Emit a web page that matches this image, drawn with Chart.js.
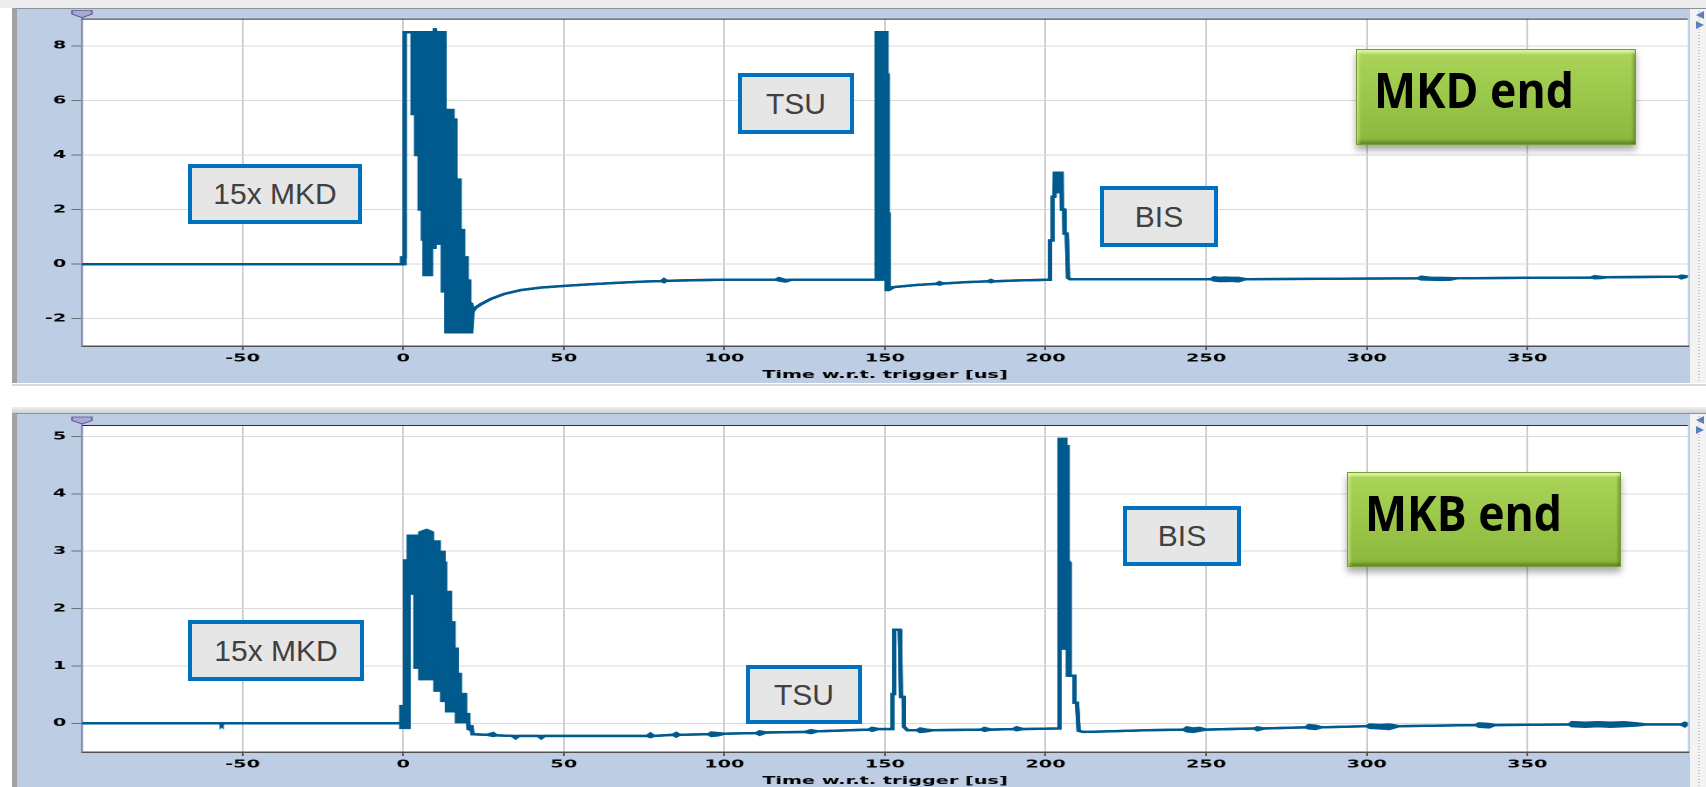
<!DOCTYPE html>
<html>
<head>
<meta charset="utf-8">
<script src="https://cdn.jsdelivr.net/npm/chart.js@4.4.1/dist/chart.umd.min.js"></script>
<style>
  html, body { margin: 0; padding: 0; }
  body { width: 1706px; height: 787px; overflow: hidden; position: relative; background: #ffffff; }
  .strip { position: absolute; left: 0; top: 0; width: 1706px; height: 8px; background: #ececec; }
  .gap1 { position: absolute; left: 12px; top: 384px; width: 1694px; height: 2px; background: #d9d9d9; }
  .gap2 { position: absolute; left: 12px; top: 407px; width: 1694px; height: 6px; background: linear-gradient(#f0f0f0, #d0d0d0); }
  .panel { position: absolute; left: 12px; width: 1678px; box-sizing: border-box;
           background: #bccde4; border-top: 1px solid #8c929a; border-left: 5px solid #a2a2a2;
           box-shadow: inset 1px 0 0 #c8c8c8; }
  .scroll { position: absolute; left: 1690px; width: 16px; box-sizing: border-box; background: #f3f3f3;
            border-top: 1px solid #8c929a;
            background-image: repeating-linear-gradient(#f3f3f3 0 2px, #c9c9c9 2px 3px);
            background-size: 2px 100%; background-repeat: repeat-y; background-position: 8px 0; }
  .tri { position: absolute; width: 0; height: 0; border-top: 4px solid transparent; border-bottom: 4px solid transparent; }
  .tri.l { border-right: 8px solid #5b7fbf; }
  .tri.r { border-left: 8px solid #5b7fbf; }
  .plot { position: absolute; left: 17px; width: 956px; transform: scaleX(1.75); transform-origin: 0 0; }
  .note { position: absolute; box-sizing: border-box; border: 4px solid #0070c0; background: #e7e6e6;
          color: #404040; font-family: "Liberation Sans", Arial, sans-serif; font-size: 30px;
          display: flex; align-items: center; justify-content: center; white-space: nowrap; }
  .tag { position: absolute; box-sizing: border-box; border: 1px solid #7a9c37;
         background: linear-gradient(#aad559 0%, #9cc84b 45%, #8cb73f 100%);
         box-shadow: inset 0 6px 3px -3px rgba(235,255,190,0.75), inset 6px 0 3px -4px rgba(225,250,170,0.55),
                     inset -6px 0 3px -4px rgba(70,100,20,0.45), inset 0 -6px 3px -3px rgba(70,100,20,0.55),
                     0 5px 7px rgba(0,0,0,0.35);
         display: flex; align-items: center; white-space: nowrap; }
  .tag span { display: inline-block; font-family: "Open Sans", "Lato", sans-serif; font-weight: 700;
              font-size: 48px; line-height: 1; color: #000; transform-origin: 0 50%; }
</style>
</head>
<body>
<div class="strip"></div>
<div class="panel" style="top:8px;height:375px"></div>
<div class="scroll" style="top:8px;height:375px"></div>
<div class="tri l" style="left:1696px;top:11px"></div>
<div class="tri r" style="left:1696px;top:21px"></div>
<div class="gap1"></div>
<div class="gap2"></div>
<div class="panel" style="top:413px;height:374px"></div>
<div class="scroll" style="top:413px;height:374px"></div>
<div class="tri l" style="left:1696px;top:416px"></div>
<div class="tri r" style="left:1696px;top:426px"></div>

<div class="plot" style="top:9px;height:374px"><canvas id="mkdEnd"></canvas></div>
<div class="plot" style="top:414px;height:375px"><canvas id="mkbEnd"></canvas></div>

<div class="note" style="left:188px;top:164px;width:174px;height:60px">15x MKD</div>
<div class="note" style="left:738px;top:73px;width:116px;height:61px">TSU</div>
<div class="note" style="left:1100px;top:186px;width:118px;height:61px">BIS</div>
<div class="tag" style="left:1356px;top:49px;width:280px;height:96px;padding-left:17px;padding-bottom:14px"><span data-w="200">MKD end</span></div>

<div class="note" style="left:188px;top:620px;width:176px;height:61px">15x MKD</div>
<div class="note" style="left:746px;top:665px;width:116px;height:59px">TSU</div>
<div class="note" style="left:1123px;top:506px;width:118px;height:60px">BIS</div>
<div class="tag" style="left:1347px;top:472px;width:274px;height:95px;padding-left:17px;padding-bottom:13px"><span data-w="197">MKB end</span></div>

<script>
// Time axis (us after trigger) and tick positions shared by both kicker-end pickups
const xTickValues = [-50, 0, 50, 100, 150, 200, 250, 300, 350];
const xAxisTitle = 'Time w.r.t. trigger [us]';

// MKD end pickup: per-sample envelope (max / min) of the recorded signal
const mkdEndTime = [
  -100, -0.4, -0.4, 0.2,
  0.2, 0.6, 0.6, 2.9,
  2.9, 4.0, 4.0, 5.1, 5.1, 6.1, 6.1, 6.6, 6.6, 8.7, 8.7, 9.7,
  9.7, 9.9, 10.1, 11.3, 11.3, 12.3, 12.3, 12.9, 12.9, 13.4, 13.4, 13.9,
  13.9, 15.4, 15.4, 16.3, 16.3, 17.6, 17.6, 18.7, 18.7, 19.8, 19.8, 20.6,
  20.6, 21.2, 21.6,
  22.5, 24.3, 27.4, 31.5, 36.7, 42.9, 50, 58, 66, 75, 80.5, 81.2, 82, 90, 100,
  116, 117, 119, 121, 147.4,
  147.4, 149.4, 149.4, 150.5, 150.5, 150.9, 150.9, 151.2, 151.2, 152.8,
  160, 166, 167, 168, 175, 182, 183, 184, 190, 201.4,
  201.4, 202.2, 202.2, 202.8, 202.9, 203.6, 203.8, 204.0, 205.0, 205.1, 205.8, 205.9, 206.6, 207.0, 207.6,
  230, 251.5, 252.5, 254, 256, 258, 260, 262, 263, 300,
  316, 317, 320, 323, 326, 328, 350, 370, 371, 373, 375, 397, 398, 400
];
const mkdEndMax = [
  0, 0, 0.25, 0.25,
  8.5, 8.5, 8.5, 8.5,
  8.5, 8.5, 8.5, 8.5, 8.5, 8.5, 8.5, 8.5, 8.5, 8.5, 8.5, 8.5,
  8.5, 8.65, 8.5, 8.5, 8.5, 8.5, 8.5, 8.5, 5.4, 5.4, 5.4, 5.4,
  5.65, 5.65, 5.3, 5.3, 3.1, 3.1, 1.25, 1.25, 0.25, 0.25, -0.6, -0.6,
  -1.4, -1.45, -1.7,
  -1.6, -1.46, -1.27, -1.09, -0.95, -0.86, -0.8, -0.74, -0.69, -0.64, -0.62, -0.55, -0.61, -0.59, -0.57,
  -0.57, -0.51, -0.58, -0.57, -0.57,
  8.5, 8.5, 8.5, 8.5, 6.95, 6.95, 1.85, 1.85, -0.85, -0.84,
  -0.76, -0.72, -0.66, -0.71, -0.66, -0.63, -0.58, -0.63, -0.6, -0.57,
  0.87, 0.87, 2.47, 2.47, 3.35, 3.35, 2.6, 3.35, 3.35, 2.0, 2.0, 1.12, 1.12, -0.5, -0.55,
  -0.55, -0.55, -0.48, -0.5, -0.49, -0.5, -0.5, -0.54, -0.55, -0.53,
  -0.52, -0.46, -0.5, -0.5, -0.51, -0.52, -0.5, -0.49, -0.44, -0.47, -0.48, -0.46, -0.42, -0.45
];
const mkdEndMin = [
  0, 0, 0, 0,
  0.25, 0.25, 8.5, 8.5,
  5.5, 5.5, 4.0, 4.0, 2.0, 2.0, 0.9, 0.9, -0.4, -0.4, 0.6, 0.6,
  0.75, 0.75, 0.75, 0.75, 1.5, 1.5, -1.0, -1.0, -1.0, -1.0, -2.5, -2.5,
  -2.5, -2.5, -2.5, -2.5, -2.5, -2.5, -2.5, -2.5, -2.5, -2.5, -2.5, -2.5,
  -2.5, -2.5, -1.75,
  -1.6, -1.46, -1.27, -1.09, -0.95, -0.86, -0.8, -0.74, -0.69, -0.64, -0.62, -0.66, -0.61, -0.59, -0.57,
  -0.57, -0.6, -0.64, -0.57, -0.57,
  -0.57, -0.57, 1.85, 1.85, -0.95, -0.95, -0.95, -0.95, -0.95, -0.84,
  -0.76, -0.72, -0.75, -0.71, -0.66, -0.63, -0.66, -0.63, -0.6, -0.57,
  0.87, 0.87, 2.47, 2.47, 3.35, 3.35, 2.6, 3.35, 3.35, 2.0, 2.0, 1.12, 1.12, -0.5, -0.55,
  -0.55, -0.55, -0.6, -0.62, -0.62, -0.61, -0.63, -0.56, -0.55, -0.53,
  -0.52, -0.56, -0.57, -0.58, -0.57, -0.52, -0.5, -0.49, -0.52, -0.51, -0.48, -0.46, -0.52, -0.45
];
const mkdEndYTicks = [-2, 0, 2, 4, 6, 8];

// MKB end pickup: per-sample envelope (max / min) of the recorded signal
const mkbEndTime = [
  -100, -57, -56.5, -56, -0.6,
  -0.6, 0.2, 0.2, 0.7, 0.7, 1.7,
  1.7, 3.8, 3.8, 4.3, 4.3, 5.3, 5.3, 7.3, 9.0,
  9.0, 10.0, 10.0, 11.1, 11.1, 12.1, 12.1, 12.6, 12.6, 13.1, 13.1, 13.6,
  13.6, 14.6, 14.6, 15.7, 15.7, 16.7, 16.7, 17.7, 17.7, 19.3, 19.3, 20.3,
  20.3, 21.3, 21.6,
  26, 28, 29, 34, 35, 36, 42, 43, 44, 70, 76, 77, 78, 84, 85, 86,
  95, 96, 98, 100, 110, 111, 113, 125, 127, 129, 145, 146, 148, 151.5,
  152.3, 152.3, 152.9, 152.9, 154.6, 154.6, 154.9, 155.0, 155.8, 155.9, 157,
  160, 161, 163, 165, 180, 181, 183, 190, 191, 193, 204,
  204, 204.5, 204.5, 206.2, 206.2, 206.9, 206.9, 207.3, 207.3, 207.7, 207.7, 209.0, 209.0, 209.8, 210.3, 211.8,
  220, 232, 243, 244, 246, 248, 250, 265, 266, 268, 281, 282, 284, 286,
  300, 301, 304, 307, 310, 334, 335, 338, 340,
  363, 364, 368, 372, 376, 380, 384, 387, 398, 399, 400
];
const mkbEndMax = [
  0, 0, 0, 0, 0,
  0.3, 0.3, 1.0, 1.0, 2.84, 2.84,
  3.27, 3.27, 3.27, 3.27, 3.0, 3.0, 3.33, 3.37, 3.33,
  3.17, 3.17, 3.17, 3.17, 2.99, 2.99, 2.99, 2.99, 2.8, 2.8, 2.29, 2.29,
  2.29, 2.29, 1.76, 1.76, 1.3, 1.3, 0.86, 0.86, 0.51, 0.51, 0.16, 0.16,
  -0.05, -0.05, -0.19,
  -0.2, -0.17, -0.21, -0.22, -0.22, -0.22, -0.22, -0.22, -0.22, -0.22, -0.22, -0.18, -0.22, -0.2, -0.17, -0.2,
  -0.19, -0.16, -0.17, -0.18, -0.17, -0.14, -0.16, -0.15, -0.12, -0.14, -0.11, -0.08, -0.1, -0.1,
  -0.1, 0.51, 0.51, 1.63, 1.63, 1.3, 1.3, 0.46, 0.46, -0.06, -0.12,
  -0.12, -0.09, -0.11, -0.12, -0.11, -0.08, -0.11, -0.1, -0.07, -0.1, -0.09,
  2.58, 2.58, 4.96, 4.96, 4.83, 4.83, 2.81, 2.81, 1.3, 1.3, 0.83, 0.83, 0.36, 0.36, -0.13, -0.15,
  -0.14, -0.12, -0.11, -0.07, -0.09, -0.08, -0.11, -0.09, -0.07, -0.09, -0.07, -0.03, -0.04, -0.07,
  -0.05, -0.02, -0.03, -0.02, -0.05, -0.03, 0.0, -0.01, -0.03,
  -0.02, 0.02, 0.01, 0.02, 0.01, 0.02, 0.0, -0.02, -0.02, 0.01, -0.01
];
const mkbEndMin = [
  0, 0, -0.03, 0, 0,
  -0.08, -0.08, -0.08, -0.08, -0.08, -0.08,
  2.26, 2.26, 0.97, 0.97, 0.97, 0.97, 0.77, 0.77, 0.77,
  1.0, 1.0, 0.57, 0.57, 0.57, 0.57, 0.39, 0.39, 0.39, 0.39, 0.39, 0.39,
  0.21, 0.21, 0.21, 0.21, 0.21, 0.21, 0.02, 0.02, 0.02, 0.02, 0.02, 0.02,
  -0.1, -0.12, -0.19,
  -0.2, -0.22, -0.21, -0.22, -0.26, -0.22, -0.22, -0.26, -0.22, -0.22, -0.22, -0.24, -0.22, -0.2, -0.23, -0.2,
  -0.19, -0.22, -0.21, -0.18, -0.17, -0.2, -0.16, -0.15, -0.17, -0.14, -0.11, -0.13, -0.1, -0.1,
  -0.1, 0.51, 0.51, 1.63, 1.63, 1.3, 1.3, 0.46, 0.46, -0.06, -0.12,
  -0.12, -0.15, -0.14, -0.12, -0.11, -0.13, -0.11, -0.1, -0.12, -0.1, -0.09,
  -0.09, -0.09, 1.3, 1.3, 1.3, 1.3, 0.83, 0.83, 0.83, 0.83, 0.83, 0.83, 0.36, 0.36, -0.13, -0.15,
  -0.14, -0.12, -0.11, -0.14, -0.15, -0.13, -0.11, -0.09, -0.12, -0.09, -0.07, -0.09, -0.1, -0.07,
  -0.05, -0.08, -0.09, -0.1, -0.05, -0.03, -0.06, -0.07, -0.03,
  -0.02, -0.05, -0.06, -0.05, -0.06, -0.05, -0.04, -0.02, -0.02, -0.05, -0.01
];
const mkbEndYTicks = [0, 1, 2, 3, 4, 5];

// The acquisition screen is rendered narrow and stretched horizontally
const STRETCH = 1.75;
const TRACE = '#005a8d';
const TICK_FONT = { family: 'DejaVu Sans', size: 11, weight: 'bold' };

function toPoints(t, v) {
  return t.map((x, i) => ({ x: x, y: v[i] }));
}

// White plot area, dark top frame line and the cursor flag at the top-left corner
const plotFrame = {
  id: 'plotFrame',
  beforeDraw(chart) {
    const { ctx, chartArea: a } = chart;
    ctx.save();
    ctx.fillStyle = '#ffffff';
    ctx.fillRect(a.left, a.top, a.right - a.left, a.bottom - a.top);
    ctx.restore();
  },
  afterDraw(chart) {
    const { ctx, chartArea: a } = chart;
    ctx.save();
    ctx.strokeStyle = '#2f2f2f';
    ctx.lineWidth = 1;
    ctx.beginPath();
    ctx.moveTo(a.left, a.top + 0.5);
    ctx.lineTo(a.right, a.top + 0.5);
    ctx.stroke();
    const w = 5.7, x = a.left, t = a.top;
    ctx.beginPath();
    ctx.moveTo(x - w, t - 8);
    ctx.lineTo(x + w, t - 8);
    ctx.lineTo(x + w, t - 4.5);
    ctx.lineTo(x, t - 1);
    ctx.lineTo(x - w, t - 4.5);
    ctx.closePath();
    ctx.fillStyle = '#a9a6da';
    ctx.fill();
    ctx.strokeStyle = '#55557f';
    ctx.lineWidth = 0.8;
    ctx.stroke();
    ctx.restore();
  }
};

// Shades the band between the max trace (dataset 0) and the min trace (dataset 1):
// one closed outline, forward along the max samples and back along the min samples
const envelopeFill = {
  id: 'envelopeFill',
  beforeDatasetsDraw(chart) {
    const xs = chart.scales.x, ys = chart.scales.y;
    const hi = chart.data.datasets[0].data;
    const lo = chart.data.datasets[1].data;
    const { ctx, chartArea: a } = chart;
    ctx.save();
    ctx.beginPath();
    ctx.rect(a.left, a.top, a.right - a.left, a.bottom - a.top);
    ctx.clip();
    ctx.beginPath();
    ctx.moveTo(xs.getPixelForValue(hi[0].x), ys.getPixelForValue(hi[0].y));
    for (let i = 1; i < hi.length; i++) ctx.lineTo(xs.getPixelForValue(hi[i].x), ys.getPixelForValue(hi[i].y));
    for (let i = lo.length - 1; i >= 0; i--) ctx.lineTo(xs.getPixelForValue(lo[i].x), ys.getPixelForValue(lo[i].y));
    ctx.closePath();
    ctx.fillStyle = TRACE;
    ctx.fill();
    ctx.restore();
  }
};

function makeChart(id, time, maxV, minV, yMin, yMax, yTicks, padTop) {
  return new Chart(document.getElementById(id), {
    type: 'line',
    data: {
      datasets: [
        { label: 'max', data: toPoints(time, maxV), borderColor: TRACE, borderWidth: 2.4,
          fill: false, pointRadius: 0, tension: 0, borderJoinStyle: 'miter' },
        { label: 'min', data: toPoints(time, minV), borderColor: TRACE, borderWidth: 2.4,
          fill: false, pointRadius: 0, tension: 0, borderJoinStyle: 'miter' }
      ]
    },
    options: {
      animation: false,
      responsive: true,
      maintainAspectRatio: false,
      devicePixelRatio: 2,
      events: [],
      layout: { padding: { top: padTop, left: 0, right: 0, bottom: 0 } },
      plugins: { legend: { display: false }, tooltip: { enabled: false } },
      scales: {
        x: {
          type: 'linear', min: -100, max: 400,
          afterBuildTicks: s => { s.ticks = xTickValues.map(v => ({ value: v })); },
          afterFit: s => { s.height = 37; },
          grid: { color: '#cdcdcd', lineWidth: 1, drawTicks: true, tickLength: 4, tickColor: '#555555', tickWidth: 1 },
          border: { display: true, color: '#505050', width: 1.5 },
          ticks: { font: TICK_FONT, color: '#000000', padding: 2, maxRotation: 0, autoSkip: false },
          title: { display: true, text: xAxisTitle, font: TICK_FONT, color: '#000000', padding: { top: 0, bottom: 1.4 } }
        },
        y: {
          min: yMin, max: yMax,
          afterBuildTicks: s => { s.ticks = yTicks.map(v => ({ value: v })); },
          afterFit: s => { s.width = 65 / STRETCH; },
          grid: { color: '#dadada', lineWidth: 1, drawTicks: true, tickLength: 6, tickColor: '#6e6e6e', tickWidth: 1 },
          border: { display: true, color: '#8b89b3', width: 1.2 },
          ticks: { font: TICK_FONT, color: '#000000', padding: 3 }
        }
      }
    },
    plugins: [plotFrame, envelopeFill]
  });
}

makeChart('mkdEnd', mkdEndTime, mkdEndMax, mkdEndMin, -3, 9, mkdEndYTicks, 9);
makeChart('mkbEnd', mkbEndTime, mkbEndMax, mkbEndMin, -0.5, 5.2, mkbEndYTicks, 11);

// Fit the bold captions of the green boxes to their set width
document.querySelectorAll('.tag span').forEach(el => {
  const target = parseFloat(el.dataset.w);
  const w = el.getBoundingClientRect().width;
  if (w > 0) el.style.transform = 'scaleX(' + (target / w).toFixed(3) + ')';
});
</script>
</body>
</html>
